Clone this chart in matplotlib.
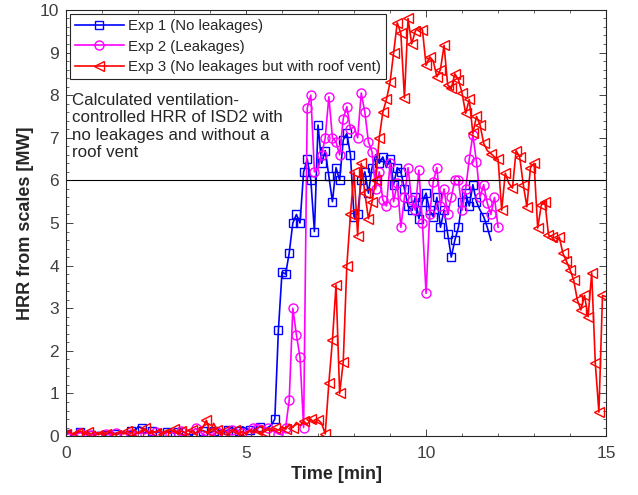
import numpy as np
import matplotlib
matplotlib.use("Agg")
import matplotlib.pyplot as plt
from matplotlib.ticker import MultipleLocator

plt.rcParams['font.family'] = ['Liberation Sans', 'DejaVu Sans']

# HRR from the scales, one reading every 0.1 min
dt = 0.1

hrr_exp1 = [
    0.05, 0.08, 0.04, 0.06, 0.10, 0.05, 0.07, 0.03, 0.06, 0.09,
    0.05, 0.02, 0.06, 0.08, 0.04, 0.07, 0.10, 0.06, 0.12, 0.10,
    0.22, 0.20, 0.14, 0.10, 0.12, 0.08, 0.10, 0.06, 0.09, 0.12,
    0.07, 0.10, 0.05, 0.02, -0.05, 0.04, 0.08, 0.10, 0.13, 0.10,
    0.08, 0.12, 0.10, 0.15, 0.12, 0.14, 0.20, 0.16, 0.12, 0.22,
    0.18, 0.15, 0.12, 0.20, 0.22, 0.18, 0.20, 0.25, 0.40, 2.50,
    3.85, 3.80, 4.30, 5.00, 5.20, 5.00, 6.20, 6.50, 6.00, 4.80,
    7.30, 6.40, 6.70, 6.10, 5.50, 6.30, 6.00, 6.95, 7.10, 6.60,
    5.15, 5.20, 6.00, 6.20, 5.70, 6.30, 6.60, 6.40, 6.55, 6.30,
    6.50, 5.90, 6.30, 6.20, 5.80, 5.40, 5.30, 5.60, 5.10, 5.50,
    5.70, 5.30, 5.15, 5.60, 4.90, 5.30, 4.75, 4.20, 4.60, 4.90,
    5.50, 5.70, 5.40, 5.90, 5.50, 5.30, 5.15, 4.90, 4.60,
]

hrr_exp2 = [
    0.03, 0.06, 0.02, 0.05, 0.08, 0.04, 0.06, 0.02, 0.05, 0.07,
    0.04, 0.06, 0.03, 0.05, 0.08, 0.05, 0.07, 0.04, 0.06, 0.09,
    0.06, 0.08, 0.05, 0.10, 0.07, 0.09, 0.12, 0.08, 0.10, 0.06,
    0.10, 0.08, 0.12, 0.09, 0.14, 0.10, 0.18, 0.12, 0.05, 0.00,
    -0.02, 0.04, 0.10, 0.08, 0.12, 0.10, 0.14, 0.10, 0.12, 0.08,
    0.10, 0.14, 0.20, 0.28, 0.25, 0.22, 0.18, 0.15, 0.10, 0.05,
    0.03, 0.20, 0.85, 3.00, 2.37, 1.85, 0.20, 7.70, 8.00, 6.20,
    6.28, 6.60, 7.00, 7.96, 7.00, 6.90, 6.60, 7.45, 7.73, 7.20,
    7.26, 7.00, 8.05, 7.60, 6.90, 6.67, 5.80, 6.20, 5.54, 5.40,
    6.40, 5.50, 5.93, 4.90, 5.60, 6.30, 5.54, 5.30, 6.24, 5.00,
    3.35, 5.20, 5.97, 6.30, 5.40, 5.80, 5.20, 5.60, 6.00, 6.00,
    5.30, 5.80, 6.50, 7.07, 6.44, 5.60, 5.90, 5.47, 5.20, 5.60,
    4.90,
]

hrr_exp3 = [
    0.05, 0.10, 0.03, 0.08, 0.12, 0.04, 0.09, 0.05, 0.11, 0.03,
    0.08, 0.04, 0.10, 0.06, 0.02, 0.09, 0.05, 0.12, 0.07, 0.15,
    0.06, 0.10, 0.18, 0.05, 0.12, 0.08, 0.15, 0.04, 0.11, 0.07,
    0.16, 0.05, 0.12, 0.08, 0.03, 0.14, 0.07, 0.12, 0.20, 0.37,
    0.10, 0.30, 0.15, 0.06, 0.12, 0.05, 0.10, 0.14, 0.06, 0.11,
    0.04, 0.12, 0.08, 0.14, 0.05, 0.10, 0.15, 0.12, 0.18, 0.14,
    0.22, 0.16, 0.28, 0.20, 0.32, 0.25, 0.35, 0.28, 0.40, 0.30,
    0.38, 0.30, 0.05, 1.24, 2.25, 3.55, 1.00, 1.74, 4.00, 5.20,
    6.20, 4.70, 6.40, 5.70, 5.10, 5.50, 6.00, 7.00, 7.60, 7.90,
    8.30, 9.00, 9.70, 9.45, 7.93, 9.80, 9.20, 9.50, 9.60, 9.53,
    8.70, 8.90, 8.80, 8.43, 8.60, 9.17, 8.24, 8.16, 8.50, 8.36,
    8.05, 7.57, 7.90, 7.10, 7.50, 7.30, 6.87, 6.70, 6.63, 6.55,
    6.50, 5.30, 6.17, 5.93, 5.82, 6.70, 6.55, 5.90, 5.38, 6.30,
    6.40, 4.88, 5.42, 5.50, 4.72, 4.67, 4.55, 4.67, 4.29, 4.10,
    3.90, 3.66, 3.20, 2.96, 3.30, 2.80, 3.83, 1.71, 0.56, 3.30,
    3.27,
]

labels = ['Exp 1 (No leakages)', 'Exp 2 (Leakages)',
          'Exp 3 (No leakages but with roof vent)']
hrr_limit = 6
note = ('Calculated ventilation-\ncontrolled HRR of ISD2 with\n'
        'no leakages and without a\nroof vent')

t1 = np.arange(len(hrr_exp1)) * dt
t2 = np.arange(len(hrr_exp2)) * dt
t3 = np.arange(len(hrr_exp3)) * dt

fig = plt.figure(figsize=(6.38, 4.95), dpi=100)
ax = fig.add_axes([0.1034, 0.119, 0.8466, 0.861])

ax.plot(t1, hrr_exp1, color='#0000ff', lw=1.2, marker='s', ms=6,
        mfc='none', mew=1.0, markevery=0.02, label=labels[0])
ax.plot(t2, hrr_exp2, color='#ff00ff', lw=1.2, marker='o', ms=6.5,
        mfc='none', mew=1.0, markevery=0.02, label=labels[1])
ax.plot(t3, hrr_exp3, color='#ff0000', lw=1.2, marker='<', ms=7,
        mfc='none', mew=1.0, markevery=0.018, label=labels[2])

ax.axhline(hrr_limit, color='black', lw=0.8)
ax.text(0.17, 8.05, note, fontsize=12.2, color='#262626', va='top', ha='left')

ax.set_xlim(0, 15)
ax.set_ylim(0, 10)
ax.xaxis.set_major_locator(MultipleLocator(5))
ax.xaxis.set_minor_locator(MultipleLocator(1))
ax.yaxis.set_major_locator(MultipleLocator(1))
ax.yaxis.set_minor_locator(MultipleLocator(0.2))
ax.tick_params(which='both', direction='in', top=True, right=True,
               color='#262626', labelcolor='#404040', labelsize=12.5)
ax.tick_params(which='major', length=5, width=0.6)
ax.tick_params(which='minor', length=2.5, width=0.5)
ax.tick_params(axis='x', pad=7)
ax.tick_params(axis='y', pad=5)
for s in ax.spines.values():
    s.set_color('#262626')
    s.set_linewidth(0.8)

ax.set_xlabel('Time [min]', fontsize=13, fontweight='bold', color='#262626')
ax.set_ylabel('HRR from scales [MW]', fontsize=13, fontweight='bold',
              color='#262626')

leg = ax.legend(loc='upper left', fontsize=10.7, frameon=True, fancybox=False,
                framealpha=1, edgecolor='#262626', handlelength=3.3,
                handletextpad=0.3, borderaxespad=0.25, borderpad=0.35,
                labelspacing=0.45)
leg.get_frame().set_linewidth(0.8)
for txt in leg.get_texts():
    txt.set_color('#262626')

fig.savefig('out.png', dpi=100)
